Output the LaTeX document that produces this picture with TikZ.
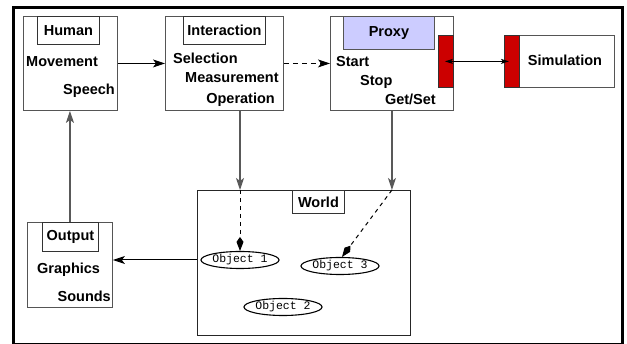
\documentclass[tikz,border=0pt]{standalone}
\usepackage{fontspec}
\setmainfont{Liberation Sans}
\newfontfamily\monofnt{Liberation Mono}
\usetikzlibrary{arrows.meta,shapes.geometric}
\definecolor{lav}{RGB}{204,204,255}
\definecolor{barred}{RGB}{204,0,0}
\definecolor{edgegray}{RGB}{85,85,85}
\tikzset{
  box/.style={draw=edgegray,line width=0.9pt,anchor=north west,inner sep=0pt},
  titlebox/.style={draw=black!80,line width=0.9pt,anchor=north west,inner sep=0pt,font=\fontsize{14.5}{16}\selectfont\bfseries},
  lbl/.style={inner sep=0pt,font=\fontsize{14.5}{16}\selectfont\bfseries},
  obj/.style={ellipse,draw,line width=1.1pt,inner sep=0pt,minimum width=66pt,minimum height=17pt,font=\fontsize{11.5}{12}\selectfont\monofnt},
  bar/.style={draw=black!80,fill=barred,line width=0.8pt,anchor=north west,inner sep=0pt,minimum width=15pt,minimum height=52pt},
  tip/.style={-{Stealth[length=12pt,width=8pt,inset=3pt]}},
  arr/.style={line width=1pt,tip},
  garr/.style={draw=black!65,line width=1.1pt,tip},
  darr/.style={line width=1pt,dash pattern=on 5pt off 4pt,tip},
  karr/.style={line width=1pt,dash pattern=on 4pt off 4pt,-{Kite[length=14pt,width=7pt,inset=5pt]}},
}
\begin{document}
\begin{tikzpicture}[x=1pt,y=-1pt]
\useasboundingbox (0,0) rectangle (627,344);
\node[draw,line width=2.8pt,anchor=north west,minimum width=609pt,minimum height=337pt,inner sep=0pt] (frame) at (12,6) {};

% Human
\node[box,minimum width=94pt,minimum height=94pt] (human) at (23,16) {};
\node[titlebox,minimum width=62pt,minimum height=28pt] (humant) at (37,16) {Human};
\node[lbl,anchor=base west] (mov) at (26,67) {Movement};
\node[lbl,anchor=base east] (spe) at (115,95) {Speech};

% Interaction
\node[box,minimum width=118pt,minimum height=94pt] (inter) at (165,16) {};
\node[titlebox,minimum width=82pt,minimum height=28pt] (intert) at (183,16) {Interaction};
\node[lbl,anchor=base west] (sel) at (173,64) {Selection};
\node[lbl,anchor=base west] (mea) at (185,83) {Measurement};
\node[lbl,anchor=base east] (ope) at (275,104) {Operation};

% Proxy
\node[box,minimum width=123pt,minimum height=94pt] (proxy) at (330,16) {};
\node[titlebox,draw=edgegray,fill=lav,minimum width=91pt,minimum height=33pt] (proxyt) at (343,16) {Proxy};
\node[bar] (pbar) at (438,35) {};
\node[lbl,anchor=base west] (sta) at (336,67) {Start};
\node[lbl,anchor=base west] (sto) at (360,86) {Stop};
\node[lbl,anchor=base east] (gs) at (436,105) {Get/Set};

% Simulation
\node[box,minimum width=110pt,minimum height=52pt] (sim) at (504,35) {};
\node[bar] (sbar) at (504,35) {};
\node[lbl,anchor=base] (simt) at (565,66) {Simulation};

% World
\node[box,draw=black!85,minimum width=213pt,minimum height=145pt] (world) at (197,190) {};
\node[titlebox,minimum width=52pt,minimum height=23pt] (worldt) at (292,190) {World};
\node[obj] (o1) at (240,260) {Object 1};
\node[obj] (o2) at (283,307) {Object 2};
\node[obj] (o3) at (340,266) {Object 3};

% Output
\node[box,minimum width=85pt,minimum height=85pt] (out) at (27,222) {};
\node[titlebox,minimum width=56pt,minimum height=29pt] (outt) at (42,222) {Output};
\node[lbl,anchor=base west] (gra) at (37,274) {Graphics};
\node[lbl,anchor=base east] (sou) at (111,302) {Sounds};

% connectors
\coordinate (w1) at (240,190);
\coordinate (w3) at (proxy.south |- world.north);
\draw[arr] (human.east) -- (inter.west);
\draw[darr] (inter.east) -- (proxy.west);
\draw[line width=0.9pt,{Stealth[length=8pt,width=5pt,inset=2pt]}-{Stealth[length=8pt,width=5pt,inset=2pt]}] ([xshift=-1pt]pbar.center) -- ([xshift=-3pt]sbar.center);
\draw[garr] (w1 |- inter.south) -- (w1);
\draw[garr] (proxy.south) -- (w3);
\draw[karr] (w1) -- (o1.north);
\draw[karr] (w3) -- ([xshift=2pt]o3.north);
\draw[arr] (world.west |- o1) -- (out.east |- o1);
\draw[garr] (out.north) -- (human.south -| out.north);
\end{tikzpicture}
\end{document}
